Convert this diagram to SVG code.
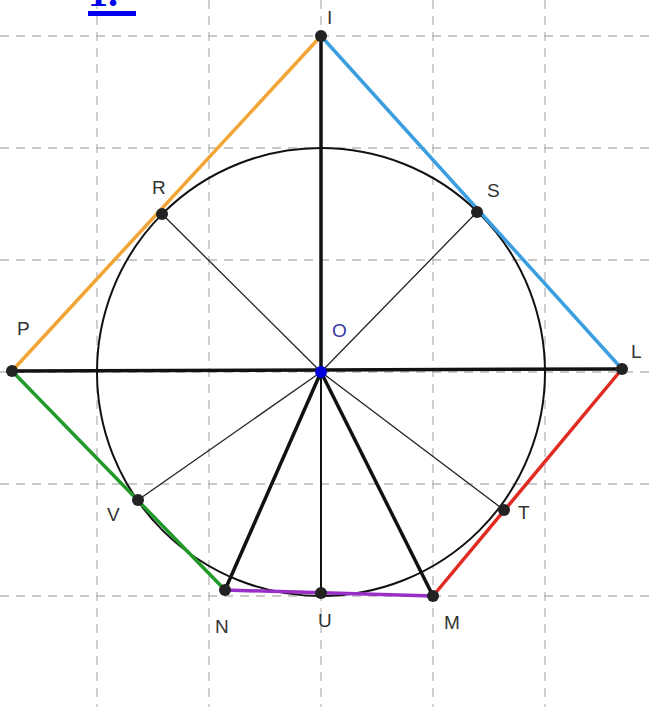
<svg xmlns="http://www.w3.org/2000/svg" width="654" height="707" viewBox="0 0 654 707">
<style>
.grid{stroke:#b8b8b8;stroke-width:1.3;stroke-dasharray:9,7;fill:none}
.thick{stroke:#111;stroke-width:3.5;fill:none}
.mid{stroke:#111;stroke-width:2;fill:none}
.thin{stroke:#222;stroke-width:1.3;fill:none}
.seg{stroke-width:3.5;fill:none}
.pt{fill:#222}
.lbl{font-family:"Liberation Sans",Arial,sans-serif;font-size:19px;fill:#333}
</style>
<rect width="654" height="707" fill="#fff"/>
<g id="grid">
<path class="grid" d="M97 0V707M209 0V707M321 0V707M433 0V707M545 0V707M0 36H654M0 148H654M0 260H654M0 372H654M0 484H654M0 596H654"/>
</g>
<g id="title">
<text x="88" y="6" font-family="Liberation Serif,serif" font-weight="bold" font-size="40" fill="#0000ee">1.</text>
<rect x="88" y="11" width="48" height="5" fill="#0000ee"/>
</g>
<g id="circle"><circle cx="321" cy="372" r="224" fill="none" stroke="#111" stroke-width="2"/></g>
<g id="connectors">
<line class="thin" x1="321" y1="372" x2="162" y2="214"/>
<line class="thin" x1="321" y1="372" x2="477" y2="212"/>
<line class="thin" x1="321" y1="372" x2="138" y2="500"/>
<line class="thin" x1="321" y1="372" x2="504" y2="510"/>
<line class="mid" x1="321" y1="372" x2="321" y2="593"/>
<line class="thick" x1="321" y1="36" x2="321" y2="372"/>
<line class="thick" x1="12" y1="371" x2="622" y2="369"/>
<line class="thick" x1="321" y1="372" x2="225" y2="590"/>
<line class="thick" x1="321" y1="372" x2="433" y2="596"/>
<line class="seg" stroke="#f2a434" x1="12" y1="371" x2="321" y2="36"/>
<line class="seg" stroke="#3a9ee0" x1="321" y1="36" x2="622" y2="369"/>
<line class="seg" stroke="#e02a22" x1="622" y1="369" x2="433" y2="596"/>
<line class="seg" stroke="#9a2fc8" x1="225" y1="590" x2="433" y2="596"/>
<line class="seg" stroke="#229a2a" x1="12" y1="371" x2="225" y2="590"/>
</g>
<g id="I"><circle class="pt" cx="321" cy="36" r="6"/><text class="lbl" x="327" y="24">I</text></g>
<g id="P"><circle class="pt" cx="12" cy="371" r="6"/><text class="lbl" x="17" y="335">P</text></g>
<g id="L"><circle class="pt" cx="622" cy="369" r="6"/><text class="lbl" x="631" y="358">L</text></g>
<g id="O"><circle cx="321" cy="372" r="6" fill="#0000dd"/><text class="lbl" x="332" y="337" style="fill:#3a3aa0">O</text></g>
<g id="R"><circle class="pt" cx="162" cy="214" r="6"/><text class="lbl" x="152" y="194">R</text></g>
<g id="S"><circle class="pt" cx="477" cy="212" r="6"/><text class="lbl" x="487" y="197">S</text></g>
<g id="V"><circle class="pt" cx="138" cy="500" r="6"/><text class="lbl" x="107" y="521">V</text></g>
<g id="T"><circle class="pt" cx="504" cy="510" r="6"/><text class="lbl" x="518" y="519">T</text></g>
<g id="N"><circle class="pt" cx="225" cy="590" r="6"/><text class="lbl" x="215" y="633">N</text></g>
<g id="U"><circle class="pt" cx="321" cy="593" r="6"/><text class="lbl" x="318" y="627">U</text></g>
<g id="M"><circle class="pt" cx="433" cy="596" r="6"/><text class="lbl" x="444" y="629">M</text></g>
</svg>
